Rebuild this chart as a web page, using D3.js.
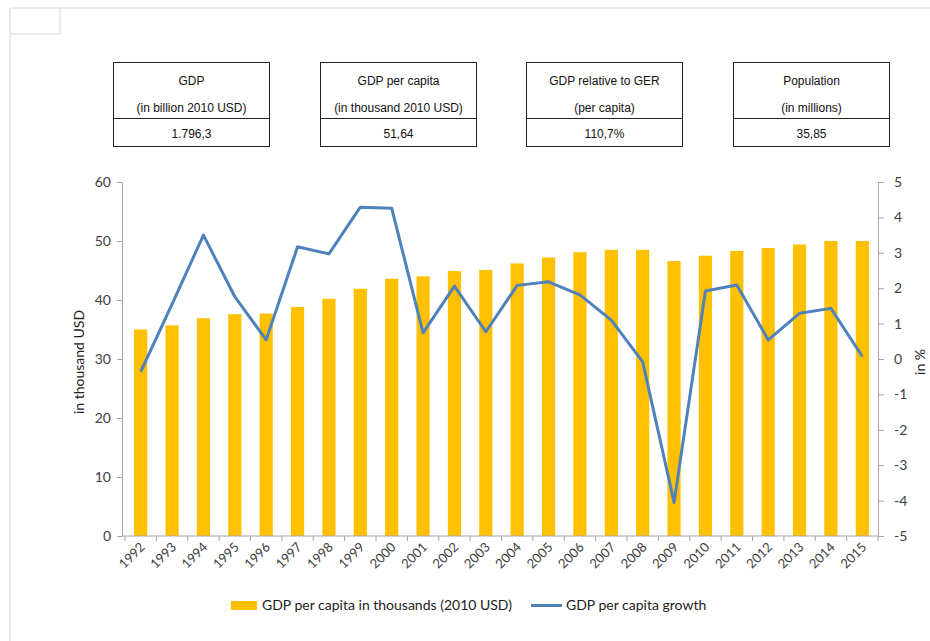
<!DOCTYPE html>
<html>
<head>
<meta charset="utf-8">
<script src="https://cdn.jsdelivr.net/npm/d3@7"></script>
<style>
  body { margin: 0; background: #fff; }
  svg { display: block; }
  .box text { font-family: "Liberation Sans Narrow", "Arial Narrow", "Liberation Sans", sans-serif; font-size: 12px; fill: #111; }
  .axis text { font-family: Lato, "Open Sans", sans-serif; font-size: 14px; fill: #404040; }
  .axis path, .axis line { stroke: #a6a6a6; }
  .legend text, .title { font-family: Lato, "Open Sans", sans-serif; font-size: 14px; fill: #222; }
</style>
</head>
<body>
<svg></svg>
<script>
const width = 930;
const height = 641;

// data ----------------------------------------
const years = ["1992","1993","1994","1995","1996","1997","1998","1999","2000","2001","2002","2003",
    "2004","2005","2006","2007","2008","2009","2010","2011","2012","2013","2014","2015"];
const gdpPerCapita = [35.0, 35.7, 36.9, 37.6, 37.7, 38.8, 40.2, 41.9, 43.6, 44.0, 44.9, 45.1,
    46.2, 47.2, 48.1, 48.5, 48.5, 46.6, 47.5, 48.3, 48.8, 49.4, 50.0, 50.0];
const growth = [-0.36, 1.55, 3.5, 1.76, 0.54, 3.17, 2.97, 4.29, 4.26, 0.74, 2.06, 0.77,
    2.08, 2.18, 1.81, 1.10, -0.08, -4.05, 1.92, 2.09, 0.54, 1.29, 1.43, 0.07];
const leftTicks = [0, 10, 20, 30, 40, 50, 60];
const rightTicks = [-5, -4, -3, -2, -1, 0, 1, 2, 3, 4, 5];

const boxTitles = ["GDP", "GDP per capita", "GDP relative to GER", "Population"];
const boxSubtitles = ["(in billion 2010 USD)", "(in thousand 2010 USD)", "(per capita)", "(in millions)"];
const boxValues = ["1.796,3", "51,64", "110,7%", "35,85"];
const legendLabels = ["GDP per capita in thousands (2010 USD)", "GDP per capita growth"];

const svg = d3.select("svg")
    .attr("width", width)
    .attr("height", height);

// 바깥 회색 틀
const frame = svg.append("g").attr("stroke", "#d9d9d9").attr("fill", "none");
frame.append("line").attr("x1", 10).attr("y1", 8).attr("x2", 930).attr("y2", 8);
frame.append("line").attr("x1", 10).attr("y1", 8).attr("x2", 10).attr("y2", 641);
frame.append("line").attr("x1", 60).attr("y1", 8).attr("x2", 60).attr("y2", 34);
frame.append("line").attr("x1", 10).attr("y1", 34).attr("x2", 60).attr("y2", 34);

// 상단 박스 ----------------------------------------
const boxX = d3.scalePoint().domain(d3.range(4)).range([113, 733]);
const boxW = 156;
const boxes = svg.selectAll(".box")
    .data(boxTitles)
    .enter().append("g")
    .attr("class", "box")
    .attr("transform", (d, i) => `translate(${Math.round(boxX(i)) + 0.5},62.5)`);

boxes.append("rect")
    .attr("width", boxW).attr("height", 84)
    .attr("fill", "none").attr("stroke", "#222");
boxes.append("line")
    .attr("x1", 0).attr("x2", boxW).attr("y1", 56).attr("y2", 56)
    .attr("stroke", "#222");
boxes.append("text")
    .attr("x", boxW / 2).attr("y", 22).attr("text-anchor", "middle")
    .text(d => d);
boxes.append("text")
    .attr("x", boxW / 2).attr("y", 49).attr("text-anchor", "middle")
    .text((d, i) => boxSubtitles[i]);
boxes.append("text")
    .attr("x", boxW / 2).attr("y", 75).attr("text-anchor", "middle")
    .text((d, i) => boxValues[i]);

// 차트 ----------------------------------------
const plotLeft = 125, plotRight = 878, plotTop = 182, plotBottom = 536;

const x = d3.scaleBand()
    .domain(years)
    .range([plotLeft, plotRight])
    .paddingInner(0.58)
    .paddingOuter(0.29);

const yLeft = d3.scaleLinear().domain([0, 60]).range([plotBottom, plotTop]);
const yRight = d3.scaleLinear().domain([-5, 5]).range([plotBottom, plotTop]);

svg.append("g")
    .selectAll("rect")
    .data(gdpPerCapita)
    .enter().append("rect")
    .attr("x", (d, i) => x(years[i]))
    .attr("y", d => yLeft(d))
    .attr("width", x.bandwidth())
    .attr("height", d => yLeft(0) - yLeft(d))
    .attr("fill", "#ffc000");

// 축
svg.append("g")
    .attr("class", "axis")
    .attr("transform", "translate(122,0)")
    .call(d3.axisLeft(yLeft).tickValues(leftTicks).tickSize(5).tickSizeOuter(0).tickPadding(6));

const rightAxis = svg.append("g")
    .attr("class", "axis")
    .attr("transform", `translate(${plotRight},0)`)
    .call(d3.axisRight(yRight).tickValues(rightTicks).tickSize(6).tickSizeOuter(0).tickPadding(10)
        .tickFormat(d => String(d)));
rightAxis.selectAll("text").attr("text-anchor", "start").attr("x", 16);

const bandStep = x.step();
const boundaries = d3.range(years.length + 1).map(i => plotLeft + i * bandStep);
const bottomAxis = svg.append("g")
    .attr("class", "axis")
    .attr("transform", `translate(0,${plotBottom})`);
bottomAxis.append("line")
    .attr("x1", 122).attr("x2", plotRight).attr("y1", 0).attr("y2", 0);
bottomAxis.selectAll(".tk")
    .data(boundaries)
    .enter().append("line")
    .attr("class", "tk")
    .attr("x1", d => d).attr("x2", d => d)
    .attr("y1", 0).attr("y2", 5);
bottomAxis.selectAll(".lbl")
    .data(years)
    .enter().append("text")
    .attr("class", "lbl")
    .attr("text-anchor", "end")
    .style("font-size", "13px")
    .attr("transform", d => `translate(${x(d) + x.bandwidth() / 2 + 5},${12}) rotate(-45)`)
    .text(d => d);

// 선
const line = d3.line()
    .x((d, i) => x(years[i]) + x.bandwidth() / 2)
    .y(d => yRight(d));

svg.append("path")
    .datum(growth)
    .attr("d", line)
    .attr("fill", "none")
    .attr("stroke", "#4f81bd")
    .attr("stroke-width", 3)
    .attr("stroke-linejoin", "round");

// 축 제목
svg.append("text")
    .attr("class", "title")
    .attr("text-anchor", "middle")
    .attr("transform", "translate(84,362) rotate(-90)")
    .text("in thousand USD");
svg.append("text")
    .attr("class", "title")
    .attr("text-anchor", "middle")
    .attr("transform", "translate(925,362) rotate(-90)")
    .text("in %");

// 범례
const legend = svg.append("g").attr("class", "legend");
legend.append("rect")
    .attr("x", 231).attr("y", 601).attr("width", 26).attr("height", 9)
    .attr("fill", "#ffc000");
legend.append("text").attr("x", 262).attr("y", 610).text(legendLabels[0]);
legend.append("line")
    .attr("x1", 531).attr("x2", 562).attr("y1", 605.5).attr("y2", 605.5)
    .attr("stroke", "#4f81bd").attr("stroke-width", 3);
legend.append("text").attr("x", 566).attr("y", 610).text(legendLabels[1]);
</script>
</body>
</html>
